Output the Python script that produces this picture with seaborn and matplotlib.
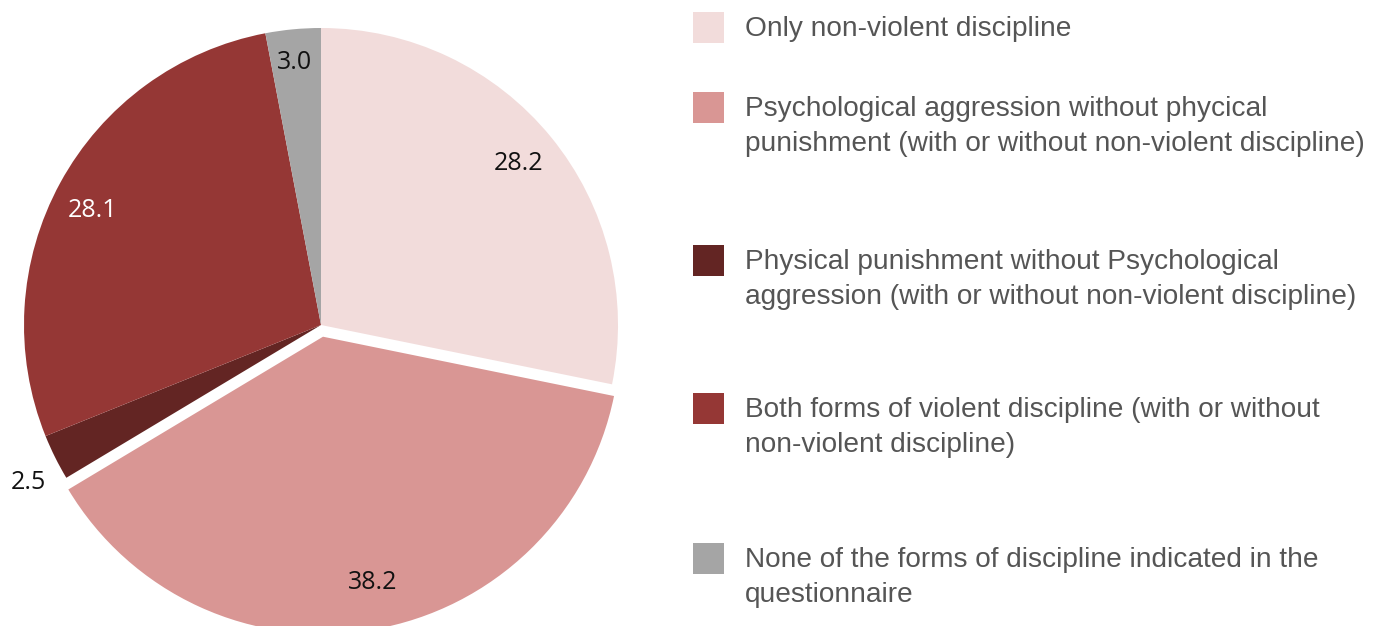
import numpy as np
import matplotlib
matplotlib.use("Agg")
import matplotlib.pyplot as plt
import seaborn as sns
from matplotlib.patches import Rectangle

categories = [
    "Only non-violent discipline",
    "Psychological aggression without phycical\npunishment (with or without non-violent discipline)",
    "Physical punishment without Psychological\naggression (with or without non-violent discipline)",
    "Both forms of violent discipline (with or without\nnon-violent discipline)",
    "None of the forms of discipline indicated in the\nquestionnaire",
]
values = [28.2, 38.2, 2.5, 28.1, 3.0]
value_labels = ["28.2", "38.2", "2.5", "28.1", "3.0"]
colors = ["#F2DCDB", "#D99694", "#632523", "#953735", "#A5A5A5"]
label_colors = ["#111111", "#111111", "#111111", "#FFFFFF", "#111111"]
label_dist = [0.86, 0.845, 1.12, 0.86, 0.89]
label_rot = [0, 1.8, 1.8, 1.9, 0.4]  # small angular nudges (deg)
explode = [0, 0.04, 0, 0, 0]

sns.set_theme(style="white")
plt.rcParams['font.family'] = ['Liberation Sans', 'DejaVu Sans']

W, H = 1394, 626
fig = plt.figure(figsize=(W / 100, H / 100), dpi=100)
cx, cy, R = 321, 325, 297
ax = fig.add_axes([(cx - R) / W, (H - cy - R) / H, 2 * R / W, 2 * R / H])

wedges, _ = ax.pie(values, colors=colors, startangle=90, counterclock=False,
                   explode=explode, radius=1,
                   wedgeprops=dict(linewidth=0, clip_on=False))
ax.set_xlim(-1, 1)
ax.set_ylim(-1, 1)
ax.set_aspect("equal")
ax.axis("off")

for w, lab, col, d, rot in zip(wedges, value_labels, label_colors, label_dist, label_rot):
    ang = np.deg2rad((w.theta1 + w.theta2) / 2 + rot)
    x = w.center[0] + d * np.cos(ang)
    y = w.center[1] + d * np.sin(ang)
    ax.text(x, y, lab, ha="center", va="center", fontsize=18, color=col,
            family=["Open Sans", "DejaVu Sans"], clip_on=False)

# legend
legend_y = [27, 107, 260, 408, 558]  # first-line centers (px from top)
for cat, col, yy in zip(categories, colors, legend_y):
    fig.patches.append(Rectangle((693 / W, (H - yy - 16) / H), 31 / W, 31 / H,
                                 transform=fig.transFigure, facecolor=col,
                                 edgecolor="none"))
    fig.text(745 / W, (H - yy + 11) / H, cat, ha="left", va="top",
             fontsize=20.2, color="#555555", linespacing=1.45)

fig.savefig("out.png", dpi=100)
